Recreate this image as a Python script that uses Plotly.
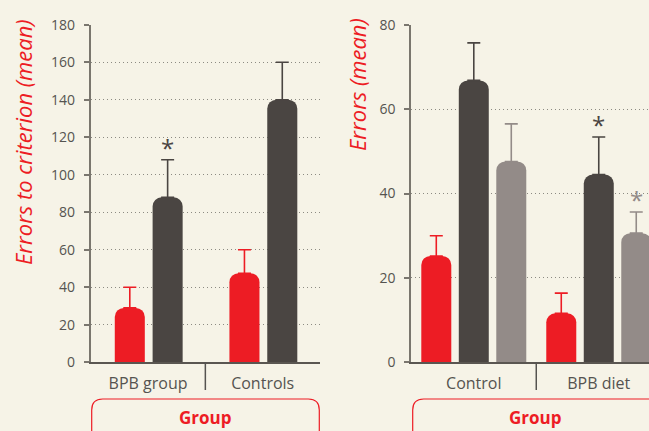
import plotly.graph_objects as go

W, H = 649, 431

# ---- data ----
left_categories = ["BPB group", "Controls"]
left_red = [29, 47.5]
left_red_err = [11, 12.5]
left_dark = [88, 140]
left_dark_err = [20, 20]
left_dark_sig = [True, False]
left_yticks = [0, 20, 40, 60, 80, 100, 120, 140, 160, 180]

right_categories = ["Control", "BPB diet"]
right_red = [25.2, 11.6]
right_red_err = [4.8, 4.8]
right_dark = [66.8, 44.5]
right_dark_err = [8.9, 8.9]
right_dark_sig = [False, True]
right_gray = [47.6, 30.6]
right_gray_err = [8.9, 5.0]
right_gray_sig = [False, True]
right_yticks = [0, 20, 40, 60, 80]

RED = "#ed1c24"
DARK = "#4a4542"
GRAY = "#938b88"
BG = "#f6f3e7"
TXT = "#555350"
FONT = "Open Sans"


def px(x):
    return x / W


def py(y):
    return 1 - y / H


fig = go.Figure()


def add_bar(xcats, vals, errs, color, offset, width, xa, ya):
    fig.add_trace(go.Bar(
        x=xcats, y=vals, xaxis=xa, yaxis=ya,
        marker=dict(color=color, line=dict(width=0), cornerradius=9),
        offset=offset, width=width,
        error_y=dict(type="data", array=errs, arrayminus=[0] * len(errs),
                     symmetric=False, color=color, thickness=1.6, width=6.5),
        showlegend=False, hoverinfo="skip",
    ))


add_bar(left_categories, left_red, left_red_err, RED, -0.29, 0.262, "x", "y")
add_bar(left_categories, left_dark, left_dark_err, DARK, 0.04, 0.262, "x", "y")

add_bar(right_categories, right_red, right_red_err, RED, -0.42, 0.24, "x2", "y2")
add_bar(right_categories, right_dark, right_dark_err, DARK, -0.12, 0.24, "x2", "y2")
add_bar(right_categories, right_gray, right_gray_err, GRAY, 0.18, 0.24, "x2", "y2")

annotations = []


def add_stars(cats, vals, errs, sig, xoff, color, xr, yr):
    for i, (c, v, e, s) in enumerate(zip(cats, vals, errs, sig)):
        if s:
            annotations.append(dict(
                x=i + xoff, y=v + e, xref=xr, yref=yr, text="*",
                showarrow=False, xanchor="center", yanchor="bottom", yshift=-6,
                font=dict(family=FONT, size=24, color=color)))


add_stars(left_categories, left_dark, left_dark_err, left_dark_sig, 0.171, DARK, "x", "y")
add_stars(right_categories, right_dark, right_dark_err, right_dark_sig, 0.0, DARK, "x2", "y2")
add_stars(right_categories, right_gray, right_gray_err, right_gray_sig, 0.30, GRAY, "x2", "y2")

# y titles
annotations.append(dict(x=px(23), y=py(142), xref="paper", yref="paper",
                        xanchor="center", yanchor="middle",
                        text="<i>Errors to criterion (mean)</i>", textangle=-90,
                        showarrow=False, font=dict(family=FONT, size=22, color=RED)))
annotations.append(dict(x=px(357), y=py(85), xref="paper", yref="paper",
                        xanchor="center", yanchor="middle",
                        text="<i>Errors (mean)</i>", textangle=-90,
                        showarrow=False, font=dict(family=FONT, size=22, color=RED)))
# group labels
for gx in (205, 535):
    annotations.append(dict(x=px(gx), y=py(417), xref="paper", yref="paper",
                            xanchor="center", yanchor="middle",
                            text="<b>Group</b>", showarrow=False,
                            font=dict(family=FONT, size=17, color=RED)))


def box_path(x0, x1, ytop, ybot, r=11):
    return (f"M{px(x0)},{py(ybot)} L{px(x0)},{py(ytop + r)} "
            f"Q{px(x0)},{py(ytop)} {px(x0 + r)},{py(ytop)} "
            f"L{px(x1 - r)},{py(ytop)} "
            f"Q{px(x1)},{py(ytop)} {px(x1)},{py(ytop + r)} "
            f"L{px(x1)},{py(ybot)}")


shapes = [
    dict(type="path", xref="paper", yref="paper", path=box_path(91.7, 319.3, 399, 445),
         line=dict(color=RED, width=1.2)),
    dict(type="path", xref="paper", yref="paper", path=box_path(412.7, 760, 399, 445),
         line=dict(color=RED, width=1.2)),
    dict(type="line", xref="x", yref="paper", x0=0.5, x1=0.5, y0=py(362), y1=py(390),
         line=dict(color=TXT, width=1.5)),
    dict(type="line", xref="x2", yref="paper", x0=0.5, x1=0.5, y0=py(362), y1=py(390),
         line=dict(color=TXT, width=1.5)),
]

ydom = [py(362.3), py(24.7)]

common_y = dict(
    showgrid=True, gridcolor="#8c8a82", griddash="1px,3px", gridwidth=1.2,
    showline=True, linecolor="#7a766e", linewidth=2,
    ticks="outside", ticklen=5, tickcolor="#7a766e", tickwidth=1.5,
    tickfont=dict(family=FONT, size=14, color=TXT), ticklabelstandoff=6,
    zeroline=False, domain=ydom, fixedrange=True, automargin=False,
)
common_x = dict(
    type="category", showgrid=False, showline=True, linecolor="#5a5651", linewidth=2,
    ticks="", tickfont=dict(family=FONT, size=16, color=TXT), zeroline=False,
    ticklabelstandoff=5, automargin=False, fixedrange=True,
)

fig.update_layout(
    width=W, height=H,
    margin=dict(l=0, r=0, t=0, b=0, pad=0, autoexpand=False),
    paper_bgcolor=BG, plot_bgcolor=BG,
    barmode="overlay",
    xaxis=dict(common_x, domain=[px(90.7), px(320)], range=[-0.5, 1.5], anchor="y"),
    yaxis=dict(common_y, range=[0, 180], tickvals=left_yticks, anchor="x"),
    xaxis2=dict(common_x, domain=[px(411.3), 1.0], range=[-0.5, 1.402], anchor="y2"),
    yaxis2=dict(common_y, range=[0, 80], tickvals=right_yticks, anchor="x2"),
    annotations=annotations,
    shapes=shapes,
)

fig.write_html("out.html", config={"displayModeBar": False},
               post_script="document.body.style.margin='0';")
